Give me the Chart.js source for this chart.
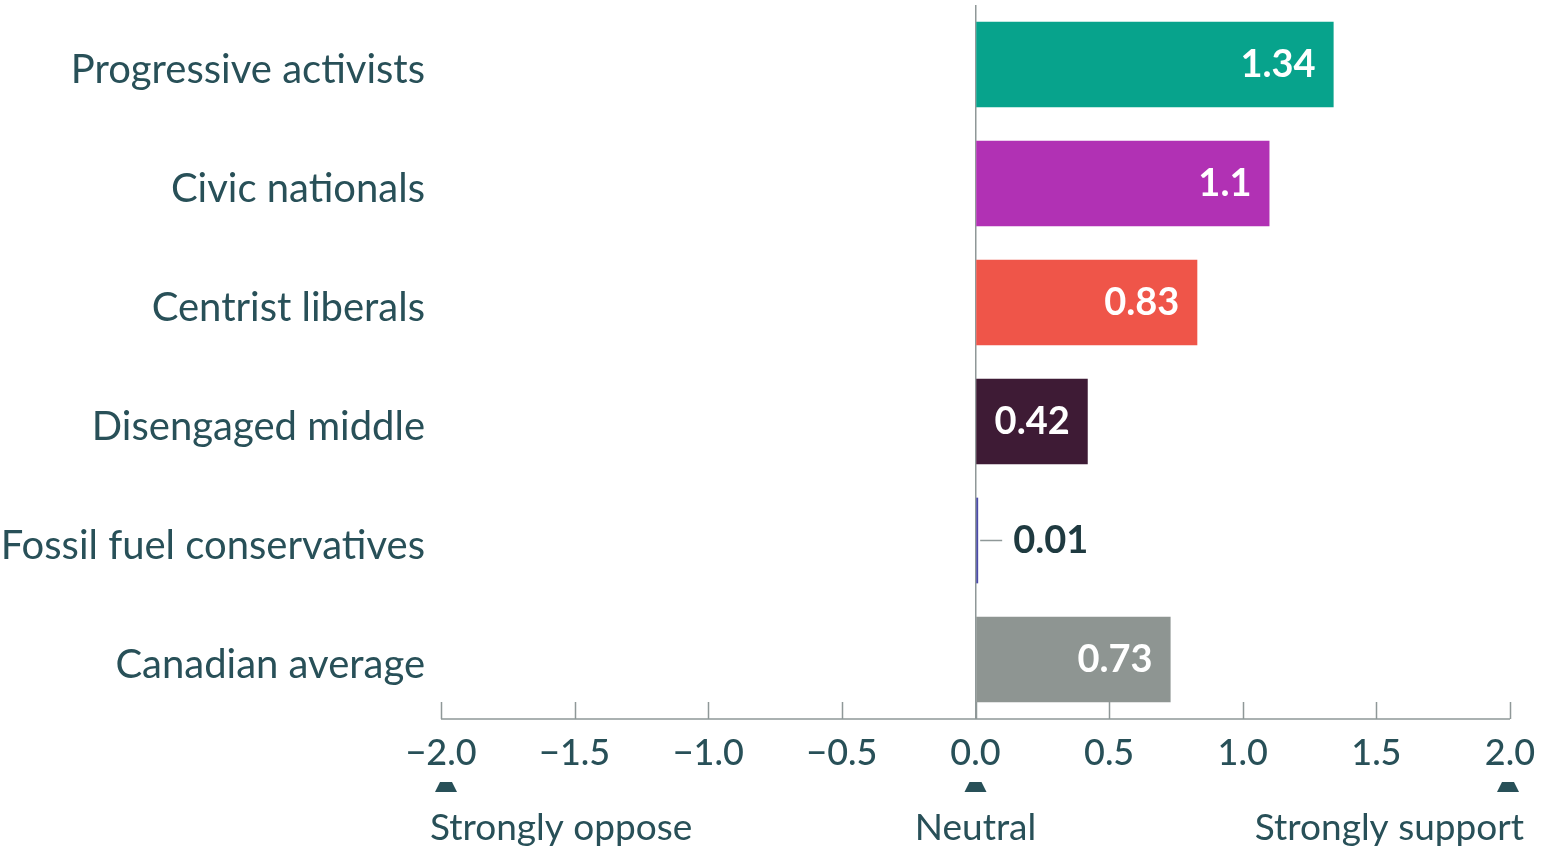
<!DOCTYPE html>
<html>
<head>
<meta charset="utf-8">
<script src="https://cdn.jsdelivr.net/npm/chart.js@4"></script>
<style>
  html, body { margin: 0; padding: 0; background: #fff; }
  #wrap { width: 1542px; height: 849px; position: relative; }
</style>
</head>
<body>
<div id="wrap"><canvas id="chart"></canvas></div>
<script>
const groups = ['Progressive activists', 'Civic nationals', 'Centrist liberals', 'Disengaged middle', 'Fossil fuel conservatives', 'Canadian average'];
const scores = [1.34, 1.1, 0.83, 0.42, 0.01, 0.73];
const scoreLabels = ['1.34', '1.1', '0.83', '0.42', '0.01', '0.73'];
const barColors = ['#07a38c', '#b131b4', '#ef5549', '#3e1b35', '#4a4ba6', '#8e9592'];
const xTicks = [-2, -1.5, -1, -0.5, 0, 0.5, 1, 1.5, 2];
const scaleNotes = [
    {value: -2, text: 'Strongly oppose', align: 'left'},
    {value: 0, text: 'Neutral', align: 'center'},
    {value: 2, text: 'Strongly support', align: 'right'}
];

const textColor = '#285058';
const axisGray = '#8f9898';

// value labels inside / beside the bars
const valueLabels = {
    id: 'valueLabels',
    afterDatasetsDraw(chart) {
        const ctx = chart.ctx;
        const bars = chart.getDatasetMeta(0).data;
        ctx.save();
        ctx.font = 'bold 38px Lato';
        ctx.textBaseline = 'middle';
        bars.forEach((bar, i) => {
            const width = Math.abs(bar.x - bar.base);
            if (width > 60) {
                ctx.fillStyle = '#ffffff';
                ctx.textAlign = 'right';
                ctx.fillText(scoreLabels[i], bar.x - 18, bar.y);
            } else {
                ctx.strokeStyle = axisGray;
                ctx.lineWidth = 1.5;
                ctx.beginPath();
                ctx.moveTo(bar.x + 2, bar.y);
                ctx.lineTo(bar.x + 24, bar.y);
                ctx.stroke();
                ctx.fillStyle = '#1f3a40';
                ctx.textAlign = 'left';
                ctx.fillText(scoreLabels[i], bar.x + 35, bar.y);
            }
        });
        ctx.restore();
    }
};

// axis line with upward tick marks, plus the scale notes below
const axisDecor = {
    id: 'axisDecor',
    afterDraw(chart) {
        const ctx = chart.ctx;
        const x = chart.scales.x;
        const bottom = chart.chartArea.bottom;
        ctx.save();
        ctx.strokeStyle = axisGray;
        ctx.lineWidth = 1.5;
        ctx.beginPath();
        ctx.moveTo(x.getPixelForValue(-2), bottom);
        ctx.lineTo(x.getPixelForValue(2), bottom);
        xTicks.forEach(v => {
            const px = Math.round(x.getPixelForValue(v)) + 0.5;
            ctx.moveTo(px, bottom);
            ctx.lineTo(px, bottom - 17);
        });
        ctx.stroke();

        ctx.fillStyle = textColor;
        ctx.font = '37px Lato';
        ctx.textBaseline = 'middle';
        scaleNotes.forEach(n => {
            const px = x.getPixelForValue(n.value);
            let tx = px;
            if (n.value < 0) tx = px + 5;
            if (n.value > 0) tx = px - 2;
            ctx.beginPath();
            ctx.moveTo(tx - 11, bottom + 73);
            ctx.lineTo(tx - 6, bottom + 63);
            ctx.lineTo(tx + 6, bottom + 63);
            ctx.lineTo(tx + 11, bottom + 73);
            ctx.closePath();
            ctx.fill();
            ctx.textAlign = n.align;
            let lx = px;
            if (n.align === 'left') lx = px - 11;
            if (n.align === 'right') lx = px + 14;
            ctx.fillText(n.text, lx, bottom + 109);
        });
        ctx.restore();
    }
};

new Chart(document.getElementById('chart'), {
    type: 'bar',
    data: {
        labels: groups,
        datasets: [{
            data: scores,
            backgroundColor: barColors,
            barPercentage: 0.72,
            categoryPercentage: 1
        }]
    },
    options: {
        indexAxis: 'y',
        responsive: true,
        maintainAspectRatio: false,
        animation: false,
        layout: { padding: { top: 5, left: 0, right: 32, bottom: 0 } },
        plugins: {
            legend: { display: false },
            tooltip: { enabled: false }
        },
        scales: {
            x: {
                min: -2,
                max: 2,
                afterBuildTicks: scale => { scale.ticks = xTicks.map(v => ({value: v})); },
                afterFit: scale => {
                    scale.height = 130;
                    scale.paddingLeft = 0;
                    scale.paddingRight = 0;
                },
                border: { display: false },
                grid: {
                    drawTicks: false,
                    lineWidth: 1.5,
                    color: c => c.tick && c.tick.value === 0 ? axisGray : 'rgba(0,0,0,0)'
                },
                ticks: {
                    padding: 13,
                    color: textColor,
                    font: { family: 'Lato', size: 36, weight: '500' },
                    maxRotation: 0,
                    callback: v => (v < 0 ? '\u2212' : '') + Math.abs(v).toFixed(1)
                }
            },
            y: {
                afterFit: scale => {
                    scale.width = 441;
                    scale.paddingTop = 0;
                    scale.paddingBottom = 0;
                },
                border: { display: false },
                grid: { display: false, drawTicks: false },
                ticks: {
                    padding: 16,
                    labelOffset: 6,
                    color: textColor,
                    font: { family: 'Lato', size: 40 }
                }
            }
        }
    },
    plugins: [valueLabels, axisDecor]
});
</script>
</body>
</html>
